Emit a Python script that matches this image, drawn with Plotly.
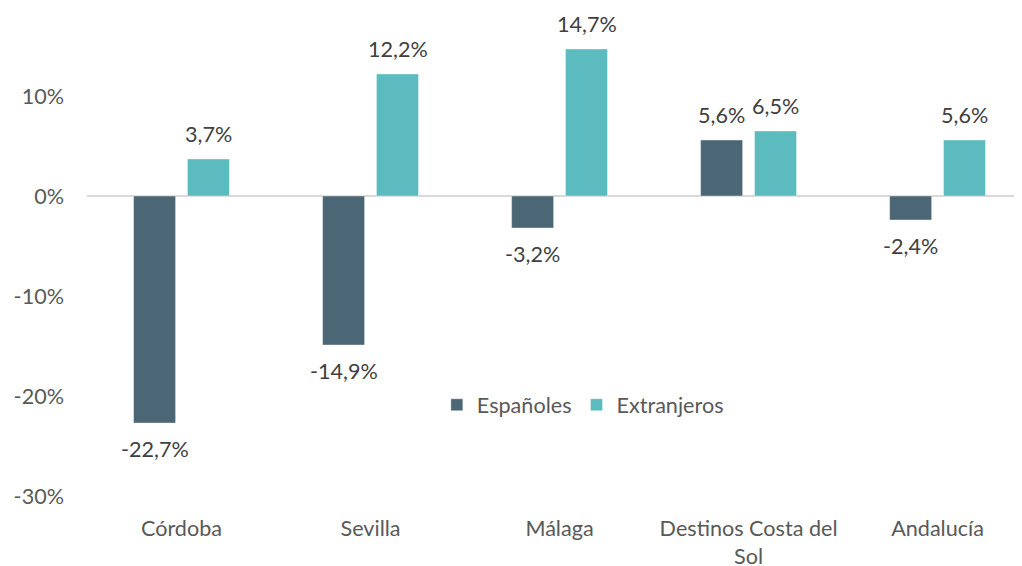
import plotly.graph_objects as go

categories = ["Córdoba", "Sevilla", "Málaga", "Destinos Costa del<br>Sol", "Andalucía"]
espanoles = [-22.7, -14.9, -3.2, 5.6, -2.4]
extranjeros = [3.7, 12.2, 14.7, 6.5, 5.6]
ytick_vals = [-30, -20, -10, 0, 10]
ytick_text = ["-30%", "-20%", "-10%", "0%", "10%"]
top_tick_val = 20
top_tick_text = "20%"

C_ESP = "#4B6674"
C_EXT = "#5BBBBE"
FONT = "Lato"
FS = 21.6

Y_MIN, Y_MAX = -30, 18.8
PLOT_H = 488

def fmt(v):
    return f"{v:.1f}".replace(".", ",") + "%"

fig = go.Figure()
fig.add_trace(go.Bar(x=categories, y=espanoles, name="Españoles",
                     marker=dict(color=C_ESP, line=dict(color="rgba(255,255,255,0.5)", width=0.8))))
fig.add_trace(go.Bar(x=categories, y=extranjeros, name="Extranjeros",
                     marker=dict(color=C_EXT, line=dict(color="rgba(255,255,255,0.5)", width=0.8))))

annotations = []
for series, shift in ((espanoles, -27), (extranjeros, 27)):
    for c, v in zip(categories, series):
        annotations.append(dict(x=c, y=v, xref="x", yref="y", text=fmt(v), showarrow=False,
                                xshift=shift, yshift=(25 if v >= 0 else -26), yanchor="middle",
                                font=dict(family=FONT, size=FS, color="#404040")))
annotations.append(dict(x=0, y=1 + (top_tick_val - Y_MAX) * PLOT_H / (Y_MAX - Y_MIN) / PLOT_H,
                        xref="paper", yref="paper", text=top_tick_text,
                        showarrow=False, xanchor="right", xshift=-21, yanchor="middle",
                        font=dict(family=FONT, size=FS, color="#595959")))

fig.update_layout(
    width=1022, height=566,
    margin=dict(l=79, r=0, t=0, b=566 - PLOT_H),
    paper_bgcolor="white", plot_bgcolor="white",
    barmode="group", bargap=0.43, bargroupgap=0.22,
    font=dict(family=FONT, size=FS, color="#595959"),
    showlegend=True,
    legend=dict(orientation="h", x=0.371, y=0.186, xanchor="left", yanchor="middle",
                font=dict(family=FONT, size=FS, color="#595959"), bgcolor="rgba(0,0,0,0)"),
    annotations=annotations,
    xaxis=dict(range=[-0.5, 4.489], showgrid=False, showline=False, zeroline=False,
               ticks="", ticklabelstandoff=17, tickfont=dict(family=FONT, size=FS, color="#595959")),
    yaxis=dict(range=[Y_MIN, Y_MAX], showgrid=False, showline=False, zeroline=True,
               zerolinecolor="#D9D9D9", zerolinewidth=1.5,
               tickvals=ytick_vals, ticktext=ytick_text, ticks="", ticklabelstandoff=22,
               tickfont=dict(family=FONT, size=FS, color="#595959")),
)
fig.write_html("out.html")
